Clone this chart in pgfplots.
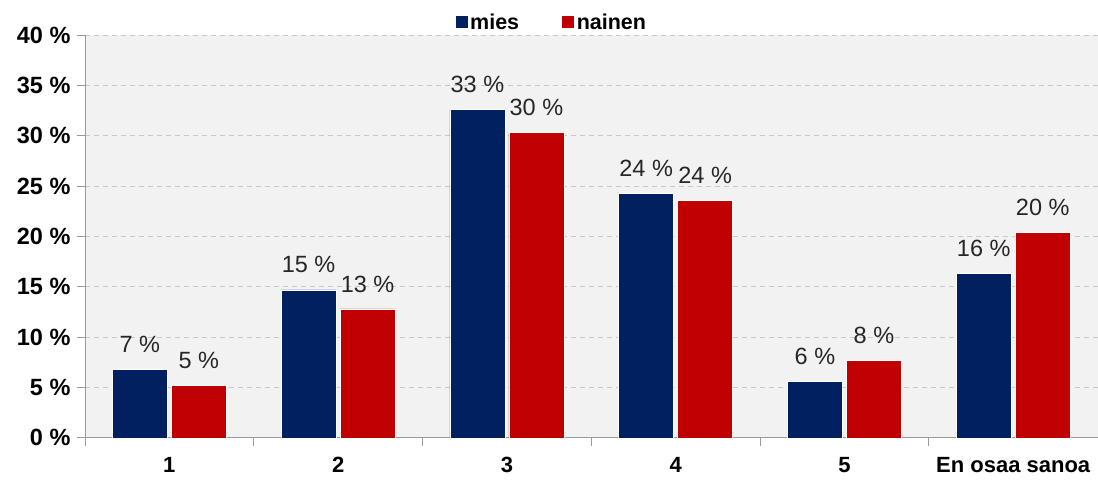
\documentclass[border=0pt]{standalone}
\usepackage{fontspec}
\setmainfont{Liberation Sans}
\usepackage{pgfplots}
\pgfplotsset{compat=1.18}
\definecolor{navy}{HTML}{002060}
\definecolor{darkred}{HTML}{C00000}
\definecolor{bg}{HTML}{F2F2F2}
\definecolor{gridc}{HTML}{C8C8C8}
\definecolor{axc}{HTML}{9A9A9A}
\definecolor{lab}{HTML}{262626}
\begin{document}
\begin{tikzpicture}[x=1pt,y=1pt]
\path (0,0) rectangle (1098,482);
\begin{axis}[
  at={(85pt,44pt)}, anchor=south west,
  scale only axis, width=1013pt, height=403pt,
  ybar=4pt, bar width=55pt,
  xmin=-0.5, xmax=5.5, ymin=0, ymax=40,
  axis lines*=left,
  axis line style={draw=axc, line width=0.8pt},
  axis background/.style={fill=bg},
  ytick={0,5,...,40},
  yticklabel={\textbf{\pgfmathprintnumber{\tick}~\%}},
  /pgf/number format/assume math mode=true,
  ymajorgrids, grid style={dash pattern=on 5pt off 4pt, draw=gridc, line width=0.8pt},
  xtick={0,...,5},
  xticklabels={1,2,3,4,5,En osaa sanoa},
  xticklabel style={font=\bfseries\fontsize{22}{26}\selectfont, yshift=-8pt},
  yticklabel style={font=\fontsize{23.5}{26}\selectfont, xshift=-3pt},
  major x tick style={draw=none},
  minor xtick={-0.5,0.5,1.5,2.5,3.5,4.5},
  tick align=outside,
  major tick length=8pt, minor tick length=8pt,
  tick style={draw=axc, line width=0.8pt},
  nodes near coords={\pgfmathprintnumber[fixed,precision=0]{\pgfplotspointmeta}~\%},
  every node near coord/.append style={font=\fontsize{23.5}{26}\selectfont, text=lab, yshift=13pt},
  legend style={at={(0.5,1)}, anchor=south, xshift=-40pt, draw=none, fill=none,
    legend columns=2, font=\bfseries\fontsize{21.5}{24}\selectfont,
    /tikz/every even column/.append style={column sep=40pt}},
  legend image code/.code={\fill[#1] (0pt,-6.5pt) rectangle (13pt,6.5pt);},
]
\addplot[fill=navy, draw=white, line width=0.6pt] coordinates {(0,6.8) (1,14.7) (2,32.6) (3,24.3) (4,5.6) (5,16.3)};
\addplot[fill=darkred, draw=white, line width=0.6pt] coordinates {(0,5.2) (1,12.8) (2,30.3) (3,23.6) (4,7.7) (5,20.4)};
\legend{mies,nainen}
\end{axis}
\end{tikzpicture}
\end{document}
